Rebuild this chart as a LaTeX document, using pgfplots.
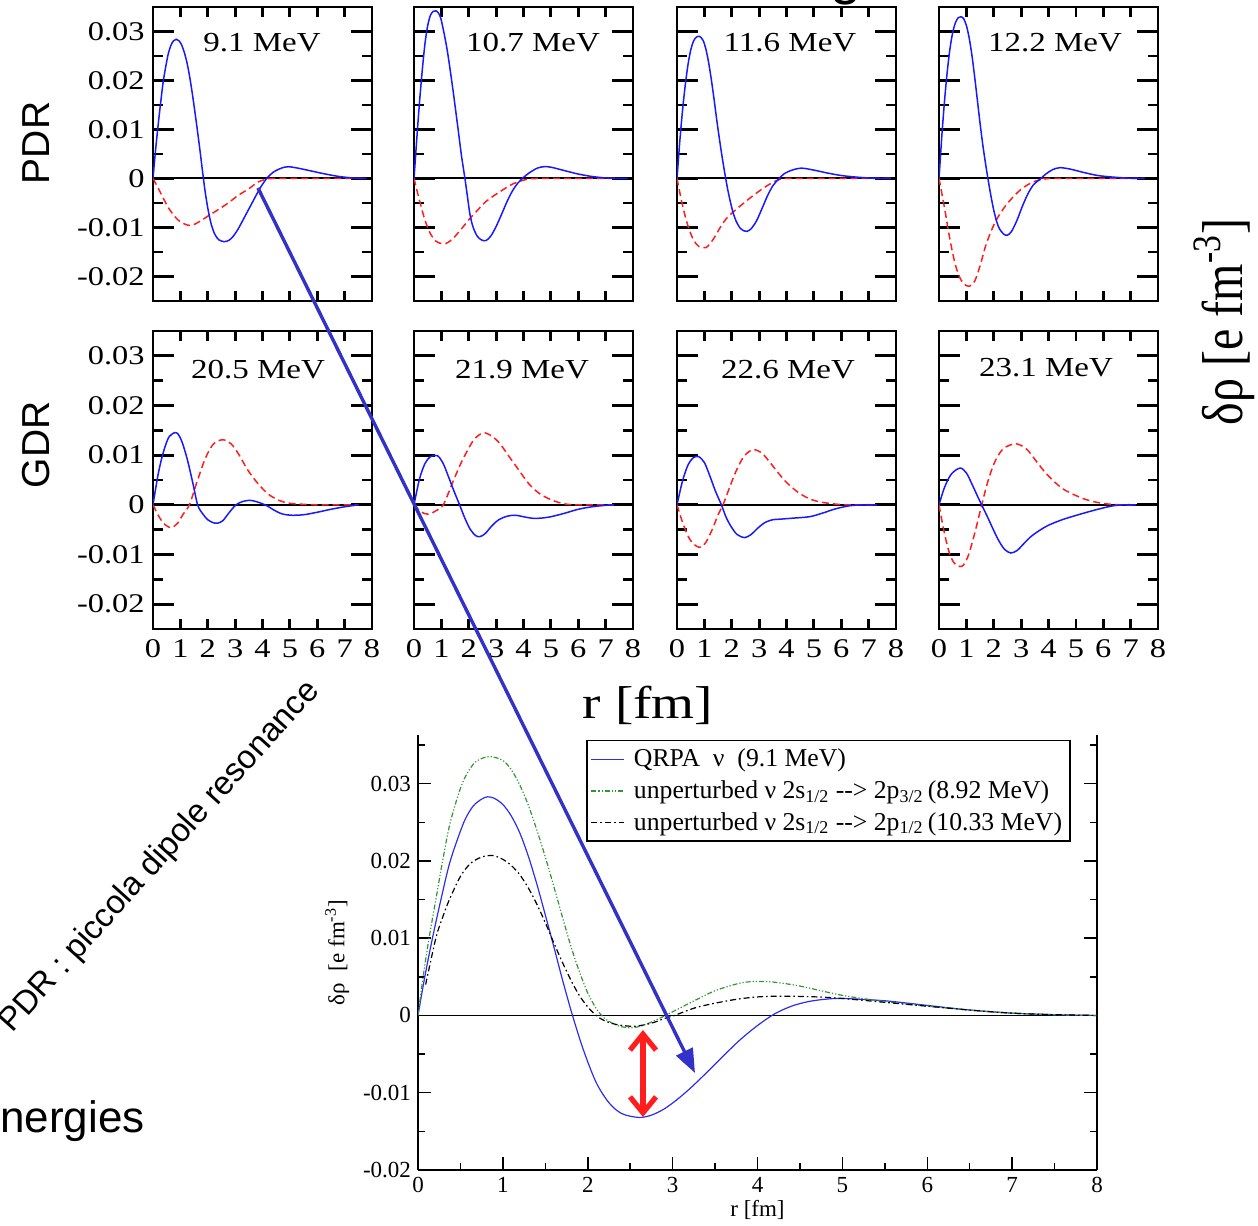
\documentclass[border=0pt]{standalone}
\usepackage{pgfplots}
\pgfplotsset{compat=1.18}
\usepackage{fontspec}
\setmainfont{Liberation Serif}
\newfontfamily\arial{Liberation Sans}
\usetikzlibrary{arrows.meta}
\definecolor{pblue}{RGB}{25,25,255}
\definecolor{pred}{RGB}{255,30,30}
\definecolor{arrowblue}{RGB}{50,50,200}
\definecolor{ugreen}{RGB}{50,150,50}
\definecolor{qblue}{RGB}{45,45,235}
\pgfplotsset{
 panel/.style={
   scale only axis, width=109.5bp, xmin=0, xmax=8, ymin=-0.025, ymax=0.035,
   scaled ticks=false,
   axis line style={line width=1.4bp},
   tick align=inside,
   major tick length=10.5bp, minor tick length=5bp,
   xtick={0,1,2,3,4,5,6,7,8}, xticklabels={},
   major x tick style={draw=none},
   minor xtick={1,2,3,4,5,6,7},
   ytick={-0.02,-0.01,0,0.01,0.02,0.03}, yticklabels={},
   minor ytick={-0.015,-0.005,0.005,0.015,0.025},
   tick style={line width=1.4bp, black},
   ticklabel style={font=\fontsize{13.5bp}{14bp}\selectfont, xscale=1.2},
   xticklabel style={yshift=-2bp},
 },
 ylab/.style={yticklabels={-0.02,-0.01,0,0.01,0.02,0.03}},
 xlab/.style={xticklabels={0,1,2,3,4,5,6,7,8}},
 bc/.style={pblue, line width=0.75bp, smooth},
 rc/.style={pred, line width=0.75bp, smooth, dash pattern=on 3.5bp off 2bp},
 zl/.style={black, line width=1bp},
}
\begin{document}
\begin{tikzpicture}[x=0.5bp,y=0.5bp]
\path[use as bounding box] (0,0) rectangle (1258,1226);

% ---------- Row 1 (PDR) ----------
\begin{axis}[panel, ylab, height=147bp, at={(76.5bp,462.5bp)}, anchor=south west]
\addplot[zl] coordinates {(0,0) (8,0)};
\addplot[rc] coordinates {(0,0) (0.2,-0.0021) (0.4,-0.0043) (0.6,-0.0063) (0.9,-0.0084) (1.15,-0.0093) (1.4,-0.0096) (1.7,-0.0088) (2.0,-0.0077) (2.4,-0.0063) (2.75,-0.005) (3.1,-0.0035) (3.5,-0.0021) (3.85,-0.0007) (4.2,-0.0001) (4.6,0) (7.8,0)};
\addplot[bc] coordinates {(0,0) (0.08,0.005) (0.17,0.010) (0.27,0.015) (0.38,0.020) (0.54,0.025) (0.65,0.0271) (0.75,0.0281) (0.85,0.0284) (0.95,0.0281) (1.05,0.0272) (1.15,0.0256) (1.25,0.0234) (1.35,0.0204) (1.45,0.0168) (1.55,0.0128) (1.65,0.0086) (1.73,0.0051) (1.81,0.0014) (1.9,-0.0025) (2.0,-0.006) (2.12,-0.0092) (2.25,-0.0113) (2.4,-0.0125) (2.6,-0.0129) (2.78,-0.0126) (2.93,-0.0118) (3.08,-0.0106) (3.2,-0.0094) (3.4,-0.0073) (3.6,-0.0052) (3.8,-0.0031) (4.0,-0.0012) (4.2,0.0003) (4.4,0.0013) (4.6,0.0019) (4.8,0.0023) (4.96,0.0024) (5.3,0.0021) (5.8,0.0015) (6.3,0.0009) (6.8,0.0004) (7.3,0.0001) (7.8,0)};
\end{axis}

\begin{axis}[panel, height=147bp, at={(207bp,462.5bp)}, anchor=south west]
\addplot[zl] coordinates {(0,0) (8,0)};
\addplot[rc] coordinates {(0,0) (0.2,-0.0045) (0.4,-0.0085) (0.6,-0.0113) (0.8,-0.0128) (1.0,-0.0133) (1.16,-0.0133) (1.4,-0.0124) (1.7,-0.0105) (2.04,-0.0082) (2.35,-0.0063) (2.65,-0.0046) (3.14,-0.0027) (3.62,-0.0011) (4.11,-0.0002) (4.6,0) (7.5,0)};
\addplot[bc] coordinates {(0,0) (0.1,0.008) (0.2,0.0155) (0.3,0.022) (0.4,0.0275) (0.5,0.0312) (0.6,0.0333) (0.7,0.0341) (0.8,0.0342) (0.9,0.0337) (1.0,0.0322) (1.2,0.0266) (1.4,0.019) (1.6,0.0105) (1.73,0.0048) (1.86,0) (1.95,-0.0036) (2.04,-0.0072) (2.15,-0.0098) (2.3,-0.0117) (2.45,-0.0125) (2.62,-0.0127) (2.8,-0.0118) (3.0,-0.0098) (3.2,-0.0073) (3.4,-0.0047) (3.6,-0.0025) (3.8,-0.0009) (4.0,0.0002) (4.2,0.0011) (4.5,0.0021) (4.75,0.0024) (5.0,0.0023) (5.5,0.0016) (6.0,0.0009) (6.5,0.0004) (7.0,0.0001) (7.5,0) (7.8,0)};
\end{axis}

\begin{axis}[panel, height=147bp, at={(338.5bp,462.5bp)}, anchor=south west]
\addplot[zl] coordinates {(0,0) (8,0)};
\addplot[rc] coordinates {(0,0) (0.2,-0.0055) (0.4,-0.0097) (0.6,-0.0125) (0.8,-0.0139) (1.06,-0.0141) (1.3,-0.0126) (1.6,-0.0098) (1.8,-0.0082) (2.06,-0.0068) (2.4,-0.0052) (2.78,-0.0035) (3.2,-0.0018) (3.5,-0.0008) (3.8,-0.0001) (4.2,0) (7.8,0)};
\addplot[bc] coordinates {(0,0) (0.1,0.0075) (0.2,0.0138) (0.3,0.019) (0.4,0.0232) (0.5,0.0262) (0.6,0.028) (0.7,0.0288) (0.82,0.029) (0.95,0.0282) (1.05,0.0265) (1.15,0.0238) (1.25,0.0203) (1.35,0.0163) (1.45,0.012) (1.55,0.008) (1.65,0.0043) (1.75,0.0009) (1.85,-0.0022) (1.95,-0.0048) (2.05,-0.007) (2.15,-0.0086) (2.3,-0.0101) (2.45,-0.0107) (2.55,-0.0108) (2.7,-0.0103) (2.9,-0.0087) (3.1,-0.0062) (3.3,-0.0036) (3.5,-0.0015) (3.7,-0.0002) (3.9,0.0009) (4.2,0.0017) (4.55,0.0021) (5.0,0.0017) (5.5,0.0011) (6.0,0.0006) (6.5,0.0003) (7.0,0.0001) (7.5,0) (7.8,0)};
\end{axis}

\begin{axis}[panel, height=147bp, at={(469.5bp,462.5bp)}, anchor=south west]
\addplot[zl] coordinates {(0,0) (8,0)};
\addplot[rc] coordinates {(0,0) (0.2,-0.006) (0.4,-0.0125) (0.6,-0.0177) (0.8,-0.0207) (1.0,-0.0219) (1.11,-0.022) (1.3,-0.021) (1.5,-0.0178) (1.7,-0.0138) (1.9,-0.0108) (2.1,-0.0084) (2.4,-0.0058) (2.7,-0.0038) (3.0,-0.0022) (3.3,-0.0011) (3.6,-0.0004) (3.9,-0.0001) (4.2,0) (7.5,0)};
\addplot[bc] coordinates {(0,0) (0.1,0.0085) (0.2,0.0158) (0.3,0.0218) (0.4,0.0265) (0.5,0.0298) (0.6,0.0318) (0.7,0.0328) (0.8,0.033) (0.9,0.0326) (1.0,0.0312) (1.1,0.0287) (1.2,0.0252) (1.3,0.0208) (1.4,0.016) (1.5,0.0112) (1.6,0.0068) (1.7,0.003) (1.8,-0.0005) (1.9,-0.0037) (2.0,-0.0065) (2.1,-0.0087) (2.2,-0.0102) (2.35,-0.0113) (2.49,-0.0116) (2.65,-0.0108) (2.85,-0.0085) (3.05,-0.0056) (3.25,-0.0031) (3.45,-0.0013) (3.7,-0.0001) (3.9,0.0009) (4.15,0.0018) (4.42,0.0022) (4.8,0.0019) (5.3,0.0012) (5.8,0.0006) (6.3,0.0003) (6.8,0.0001) (7.2,0) (7.5,0)};
\end{axis}

% ---------- Row 2 (GDR) ----------
\begin{axis}[panel, ylab, xlab, height=149bp, at={(76.5bp,298.5bp)}, anchor=south west]
\addplot[zl] coordinates {(0,0) (8,0)};
\addplot[rc] coordinates {(0,0) (0.2,-0.0022) (0.4,-0.0038) (0.66,-0.0046) (0.9,-0.0037) (1.1,-0.0019) (1.33,0) (1.6,0.0045) (1.9,0.0092) (2.2,0.0122) (2.54,0.0131) (2.85,0.0123) (3.15,0.0100) (3.45,0.0071) (3.8,0.0045) (4.2,0.0022) (4.6,0.0009) (5.0,0.0003) (5.5,0.0001) (6,0) (7.5,0)};
\addplot[bc] coordinates {(0,0) (0.2,0.0065) (0.4,0.011) (0.6,0.0138) (0.86,0.0145) (1.05,0.0128) (1.25,0.0092) (1.45,0.0045) (1.63,0) (1.8,-0.0017) (2.0,-0.003) (2.2,-0.0036) (2.36,-0.0037) (2.55,-0.0032) (2.75,-0.0018) (3.03,0) (3.3,0.0007) (3.55,0.0009) (3.8,0.0006) (4.0,0.0002) (4.2,-0.0003) (4.4,-0.001) (4.7,-0.0018) (5.04,-0.0021) (5.5,-0.002) (6.0,-0.0015) (6.5,-0.0009) (7.0,-0.0004) (7.5,0)};
\end{axis}

\begin{axis}[panel, xlab, height=149bp, at={(207bp,298.5bp)}, anchor=south west]
\addplot[zl] coordinates {(0,0) (8,0)};
\addplot[rc] coordinates {(0,0) (0.25,-0.0014) (0.52,-0.0019) (0.8,-0.0012) (1.07,0) (1.44,0.0049) (1.7,0.0082) (1.92,0.0106) (2.2,0.0132) (2.53,0.0145) (2.85,0.0138) (3.14,0.0123) (3.45,0.0099) (3.75,0.0076) (4.2,0.0042) (4.6,0.0022) (5.1,0.0008) (5.6,0.0001) (6,0) (7.3,0)};
\addplot[bc] coordinates {(0,0) (0.2,0.0052) (0.4,0.0083) (0.6,0.0097) (0.85,0.0099) (1.05,0.0085) (1.25,0.0058) (1.45,0.0029) (1.65,0.0002) (1.85,-0.0026) (2.05,-0.0049) (2.25,-0.0062) (2.41,-0.0064) (2.6,-0.0058) (2.85,-0.0042) (3.1,-0.003) (3.4,-0.0023) (3.69,-0.0021) (4.0,-0.0024) (4.3,-0.0027) (4.6,-0.0027) (5.0,-0.0024) (5.5,-0.0017) (6.0,-0.0009) (6.5,-0.0004) (7.0,-0.0001) (7.3,0)};
\end{axis}

\begin{axis}[panel, xlab, height=149bp, at={(338.5bp,298.5bp)}, anchor=south west]
\addplot[zl] coordinates {(0,0) (8,0)};
\addplot[rc] coordinates {(0,0) (0.2,-0.0035) (0.45,-0.0068) (0.7,-0.0083) (0.87,-0.0085) (1.05,-0.0076) (1.3,-0.0048) (1.5,-0.002) (1.68,0) (1.9,0.0032) (2.15,0.0067) (2.45,0.0098) (2.78,0.0111) (3.1,0.0104) (3.4,0.0085) (3.7,0.0064) (4.0,0.0045) (4.4,0.0026) (4.8,0.0013) (5.2,0.0006) (5.7,0.0002) (6.2,0) (7.3,0)};
\addplot[bc] coordinates {(0,0) (0.2,0.0048) (0.4,0.0080) (0.6,0.0095) (0.79,0.0097) (1.0,0.0085) (1.2,0.0058) (1.4,0.0028) (1.62,0) (1.8,-0.0026) (2.0,-0.0046) (2.2,-0.0060) (2.47,-0.0066) (2.7,-0.006) (2.95,-0.0047) (3.2,-0.0036) (3.5,-0.003) (3.75,-0.0029) (4.2,-0.0027) (4.84,-0.0024) (5.3,-0.0017) (5.8,-0.0008) (6.3,-0.0002) (6.8,0) (7.3,0)};
\end{axis}

\begin{axis}[panel, xlab, height=149bp, at={(469.5bp,298.5bp)}, anchor=south west]
\addplot[zl] coordinates {(0,0) (8,0)};
\addplot[rc] coordinates {(0,0) (0.15,-0.0045) (0.35,-0.0092) (0.55,-0.0117) (0.83,-0.0124) (1.05,-0.0105) (1.3,-0.0058) (1.56,0) (1.8,0.005) (2.05,0.0088) (2.35,0.0113) (2.8,0.0123) (3.2,0.0112) (3.55,0.0088) (3.93,0.0062) (4.5,0.0033) (5.15,0.0015) (5.6,0.0007) (6.1,0.0002) (6.6,0) (7.2,0)};
\addplot[bc] coordinates {(0,0) (0.2,0.0035) (0.45,0.0062) (0.77,0.0074) (1.0,0.0064) (1.2,0.0042) (1.4,0.0018) (1.6,-0.0005) (1.8,-0.0028) (2.0,-0.0052) (2.2,-0.0074) (2.4,-0.009) (2.62,-0.0097) (2.85,-0.0092) (3.1,-0.0078) (3.4,-0.0062) (3.93,-0.0043) (4.5,-0.003) (5.15,-0.0019) (5.8,-0.0009) (6.36,-0.0002) (6.8,0) (7.2,0)};
\end{axis}

% panel titles
\begin{scope}[every node/.style={font=\fontsize{13.75bp}{14bp}\selectfont, xscale=1.2}]
\node at (262,1183) {9.1 MeV};
\node at (533,1183) {10.7 MeV};
\node at (790,1183) {11.6 MeV};
\node at (1055,1183) {12.2 MeV};
\node at (258,856) {20.5 MeV};
\node at (522,856) {21.9 MeV};
\node at (788,856) {22.6 MeV};
\node at (1046,858) {23.1 MeV};
\end{scope}

\node[rotate=90, font=\arial\fontsize{19.5bp}{20bp}\selectfont] at (36,1083) {PDR};
\node[rotate=90, font=\arial\fontsize{19.5bp}{20bp}\selectfont] at (36,781) {GDR};
\node[font=\fontsize{23bp}{24bp}\selectfont, xscale=1.2] at (648,521) {r [fm]};
\node[xscale=1.2, rotate=90, font=\fontsize{24bp}{25bp}\selectfont] at (1224,904) {δρ [e fm\textsuperscript{-3}]};

% ---------- big plot ----------
\begin{axis}[at={(209bp,28bp)}, anchor=south west, scale only axis, width=339.5bp, height=217.5bp,
  xmin=0, xmax=8, ymin=-0.02, ymax=0.0363,
  scaled ticks=false,
  axis x line*=bottom, axis y line*=box,
  axis line style={line width=0.75bp},
  tick align=inside, major tick length=6.5bp, minor tick length=3.5bp,
  xtick={0,1,2,3,4,5,6,7,8}, xticklabels={0,1,2,3,4,5,6,7,8},
  minor xtick={0.5,1.5,2.5,3.5,4.5,5.5,6.5,7.5},
  ytick={-0.02,-0.01,0,0.01,0.02,0.03}, yticklabels={-0.02,-0.01,0,0.01,0.02,0.03},
  minor ytick={-0.015,-0.005,0.005,0.015,0.025,0.035},
  tick style={line width=0.75bp, black},
  ticklabel style={font=\fontsize{11.5bp}{12bp}\selectfont},
  xlabel={r [fm]}, ylabel={δρ\ \ [e fm\textsuperscript{-3}]},
  label style={font=\fontsize{11.5bp}{12bp}\selectfont},
  xlabel style={yshift=3bp},
  legend cell align=left,
  legend style={at={(0.2474,0.9885)}, anchor=north west, draw=black, line width=0.75bp,
    font=\fontsize{12.85bp}{15bp}\selectfont, inner xsep=2bp, inner ysep=2bp, row sep=1.5bp,
    column sep=2.5bp, nodes={inner xsep=2bp}},
  legend image code/.code={\draw[#1] (0bp,0bp) -- (16.5bp,0bp);},
]
\addplot[black, line width=0.75bp, forget plot] coordinates {(0,0) (8,0)};
\addplot[qblue, line width=0.6bp, smooth] coordinates {(0,0) (0.08,0.005) (0.17,0.010) (0.27,0.015) (0.38,0.020) (0.54,0.025) (0.65,0.0271) (0.75,0.0280) (0.82,0.0283) (0.9,0.0281) (1.0,0.0273) (1.1,0.0258) (1.2,0.0236) (1.3,0.0206) (1.4,0.0170) (1.5,0.0130) (1.6,0.0089) (1.7,0.0047) (1.82,0) (1.95,-0.0045) (2.1,-0.0087) (2.25,-0.0113) (2.4,-0.0127) (2.6,-0.0132) (2.75,-0.0129) (2.9,-0.0121) (3.05,-0.0109) (3.2,-0.0095) (3.4,-0.0074) (3.6,-0.0052) (3.8,-0.0031) (4.0,-0.0013) (4.2,0.0002) (4.4,0.0012) (4.6,0.0018) (4.8,0.0021) (5.0,0.0022) (5.5,0.0019) (6.0,0.0013) (6.5,0.0007) (7.0,0.0003) (7.5,0.0001) (8,0)};
\addlegendentry{QRPA\ \ ν\ \ (9.1 MeV)}
\addplot[ugreen, line width=0.6bp, smooth, dash pattern=on 2.5bp off 1bp on 0.6bp off 1bp on 0.6bp off 1bp] coordinates {(0,0) (0.06,0.005) (0.13,0.01) (0.21,0.015) (0.29,0.02) (0.38,0.025) (0.52,0.03) (0.65,0.0325) (0.76,0.0333) (0.86,0.0335) (1.0,0.033) (1.1,0.0318) (1.2,0.0298) (1.3,0.0272) (1.4,0.024) (1.5,0.0205) (1.6,0.0167) (1.7,0.0128) (1.8,0.009) (1.9,0.0057) (2.0,0.0029) (2.1,0.0009) (2.2,-0.0004) (2.35,-0.0013) (2.5,-0.0016) (2.65,-0.0013) (2.8,-0.0006) (2.95,0.0002) (3.2,0.0016) (3.5,0.0032) (3.8,0.0042) (4.0,0.0044) (4.2,0.0043) (4.5,0.0038) (5.0,0.0026) (5.5,0.0018) (6.0,0.0012) (6.5,0.0007) (7.0,0.0003) (7.5,0.0001) (8,0)};
\addlegendentry{unperturbed ν 2s\textsubscript{1/2} -\kern0pt-\kern0pt> 2p\textsubscript{3/2}\,(8.92 MeV)}
\addplot[black, line width=0.6bp, smooth, dash pattern=on 3bp off 1.5bp on 0.8bp off 1.5bp] coordinates {(0.09,0.004) (0.21,0.01) (0.29,0.0127) (0.37,0.015) (0.5,0.018) (0.62,0.0197) (0.75,0.0205) (0.88,0.0207) (1.0,0.0202) (1.1,0.0194) (1.2,0.0182) (1.3,0.0165) (1.4,0.0144) (1.5,0.012) (1.6,0.0094) (1.7,0.0069) (1.8,0.0046) (1.9,0.0026) (2.0,0.0011) (2.1,0.0) (2.2,-0.0007) (2.35,-0.0012) (2.55,-0.0014) (2.75,-0.001) (2.9,-0.0004) (3.02,0) (3.3,0.0011) (3.7,0.002) (4.0,0.0024) (4.3,0.0025) (4.7,0.0024) (5.0,0.0022) (5.5,0.0017) (6.0,0.0012) (6.5,0.0007) (7.0,0.0003) (7.5,0.0001) (8,0)};
\addlegendentry{unperturbed ν 2s\textsubscript{1/2} -\kern0pt-\kern0pt> 2p\textsubscript{1/2}\,(10.33 MeV)}
\end{axis}

% annotations
\draw[pred, line width=2.6bp, {Straight Barb[length=8bp,width=13bp]}-{Straight Barb[length=8bp,width=13bp]}] (643,196) -- (643,109);
\draw[arrowblue, line width=1.7bp, -{Triangle[length=12bp,width=9bp]}] (258,1038) -- (695,153);

\node[rotate=48, font=\arial\fontsize{16.5bp}{17bp}\selectfont] at (160,369) {PDR : piccola dipole resonance};
\node[anchor=base west, inner sep=0pt, font=\arial\fontsize{22bp}{23bp}\selectfont] at (0,93) {nergies};
\node[anchor=base, inner sep=0pt, font=\arial\fontsize{28bp}{29bp}\selectfont] at (846,1232) {g};
\end{tikzpicture}
\end{document}
